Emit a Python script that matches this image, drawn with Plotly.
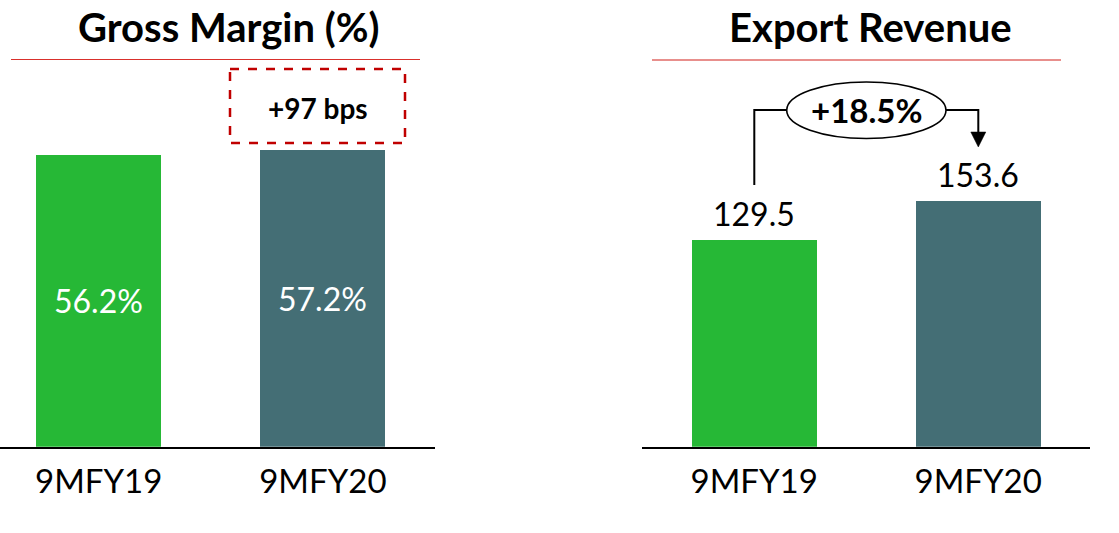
import plotly.graph_objects as go
from plotly.subplots import make_subplots

# Data
periods = ["9MFY19", "9MFY20"]
gross_margin = [56.2, 57.2]          # %
export_revenue = [129.5, 153.6]
margin_change = "+97 bps"
revenue_growth = "+18.5%"
titles = ["Gross Margin (%)", "Export Revenue"]

W, H = 1119, 533
GREEN = "#26B836"
SLATE = "#446E75"
FONT = "Lato"
bar_colors = [GREEN, SLATE]


def px_x(x):
    return x / W


def px_y(y):
    return 1 - y / H


fig = make_subplots(rows=1, cols=2)

fig.add_trace(go.Bar(x=[0, 1], y=gross_margin, marker=dict(color=bar_colors, line_width=0),
                     width=0.558, hoverinfo="skip"), row=1, col=1)
fig.add_trace(go.Bar(x=[0, 1], y=export_revenue, marker=dict(color=bar_colors, line_width=0),
                     width=0.558, hoverinfo="skip"), row=1, col=2)

y_dom = [px_y(446.7), px_y(60)]
plot_h = 446.7 - 60
axis_common = dict(tickmode="array", tickvals=[0, 1], ticktext=periods, showgrid=False,
                   zeroline=False, showline=True, linecolor="black", linewidth=2,
                   ticks="", ticklabelstandoff=5,
                   tickfont=dict(family=FONT, size=33, color="black"))
fig.update_layout(
    width=W, height=H, margin=dict(l=0, r=0, t=0, b=0),
    paper_bgcolor="white", plot_bgcolor="white", showlegend=False,
    bargap=0,
    xaxis=dict(domain=[0, px_x(435)], range=[-0.44, 1.50], **axis_common),
    xaxis2=dict(domain=[px_x(642), px_x(1090)], range=[-0.501, 1.499], **axis_common),
    yaxis=dict(domain=y_dom, range=[0, plot_h / 5.187], visible=False),
    yaxis2=dict(domain=y_dom, range=[0, plot_h / 1.5996], visible=False),
)

annotations = []
# Panel titles
for cx, t in zip([229, 870], titles):
    annotations.append(dict(x=px_x(cx), y=px_y(27), xref="paper", yref="paper", text=f"<b>{t}</b>",
                            showarrow=False, font=dict(family=FONT, size=40, color="black"),
                            xanchor="center", yanchor="middle"))
# Value labels inside the gross-margin bars
for i, v in enumerate(gross_margin):
    annotations.append(dict(x=i, y=v / 2, xref="x", yref="y", text=f"{v:.1f}%", showarrow=False,
                            font=dict(family=FONT, size=32, color="white"),
                            xanchor="center", yanchor="middle"))
# Value labels above the export-revenue bars
for i, v in enumerate(export_revenue):
    annotations.append(dict(x=i, y=v, xref="x2", yref="y2", text=f"{v:.1f}", showarrow=False,
                            font=dict(family=FONT, size=32, color="black"),
                            xanchor="center", yanchor="middle", yshift=26))
# Change callouts
annotations.append(dict(x=px_x(317.5), y=px_y(108), xref="paper", yref="paper",
                        text=f"<b>{margin_change}</b>", showarrow=False,
                        font=dict(family=FONT, size=28, color="black"),
                        xanchor="center", yanchor="middle"))
annotations.append(dict(x=px_x(866.5), y=px_y(110), xref="paper", yref="paper",
                        text=f"<b>{revenue_growth}</b>", showarrow=False,
                        font=dict(family=FONT, size=33, color="black"),
                        xanchor="center", yanchor="middle"))
fig.update_layout(annotations=annotations)

shapes = [
    # red rules under the titles
    dict(type="line", xref="paper", yref="paper", x0=px_x(11), x1=px_x(420), y0=px_y(59.5), y1=px_y(59.5),
         line=dict(color="#D9302C", width=1.2)),
    dict(type="line", xref="paper", yref="paper", x0=px_x(652), x1=px_x(1061), y0=px_y(60), y1=px_y(60),
         line=dict(color="#E06A66", width=1.6)),
    # dashed callout box
    dict(type="rect", xref="paper", yref="paper", x0=px_x(230), x1=px_x(405), y0=px_y(69), y1=px_y(143),
         line=dict(color="#C00000", width=2.5, dash="dash"), fillcolor="rgba(0,0,0,0)"),
    # growth ellipse
    dict(type="circle", xref="paper", yref="paper", x0=px_x(786.7), x1=px_x(946), y0=px_y(82), y1=px_y(138.5),
         line=dict(color="black", width=1.6), fillcolor="white"),
    # connector: up from first bar label, across into the ellipse
    dict(type="path", xref="paper", yref="paper",
         path=f"M {px_x(754.3)} {px_y(185)} L {px_x(754.3)} {px_y(110)} L {px_x(786.7)} {px_y(110)}",
         line=dict(color="black", width=2)),
    # connector: out of the ellipse and down towards the second bar label
    dict(type="path", xref="paper", yref="paper",
         path=f"M {px_x(946)} {px_y(110)} L {px_x(978.3)} {px_y(110)} L {px_x(978.3)} {px_y(134)}",
         line=dict(color="black", width=2)),
    # arrow head
    dict(type="path", xref="paper", yref="paper",
         path=(f"M {px_x(970.8)} {px_y(132)} L {px_x(985.8)} {px_y(132)} "
               f"L {px_x(978.3)} {px_y(147)} Z"),
         line=dict(color="black", width=0.5), fillcolor="black"),
]
fig.update_layout(shapes=shapes)

fig.write_html("out.html")
